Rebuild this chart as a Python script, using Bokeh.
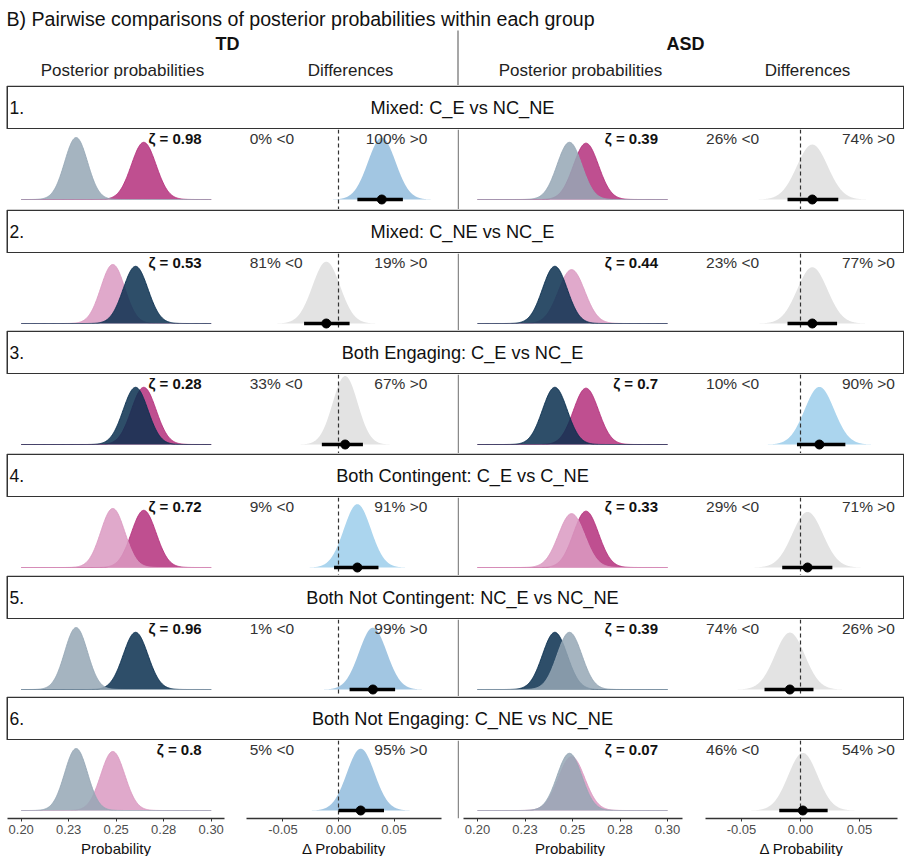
import numpy as np
from bokeh.plotting import figure
from bokeh.layouts import column, row
from bokeh.models import Range1d, Span, FixedTicker
from bokeh.core.properties import value
from bokeh.embed import file_html
from bokeh.resources import INLINE

FONT = "Liberation Sans"

# ---------------- data ----------------
conditions = ["C_E", "C_NE", "NC_E", "NC_NE"]
td_mean = [0.2645, 0.2482, 0.2602, 0.2289]
td_sd = [0.0065, 0.0063, 0.0065, 0.0060]
asd_mean = [0.2571, 0.2495, 0.2407, 0.2484]
asd_sd = [0.0066, 0.0069, 0.0065, 0.0065]

row_numbers = ["1.", "2.", "3.", "4.", "5.", "6."]
row_titles = ["Mixed: C_E vs NC_NE", "Mixed: C_NE vs NC_E",
              "Both Engaging: C_E vs NC_E", "Both Contingent: C_E vs C_NE",
              "Both Not Contingent: NC_E vs NC_NE", "Both Not Engaging: C_NE vs NC_NE"]
pair_a = ["C_E", "C_NE", "C_E", "C_E", "NC_E", "C_NE"]
pair_b = ["NC_NE", "NC_E", "NC_E", "C_NE", "NC_NE", "NC_NE"]

td_zeta = ["0.98", "0.53", "0.28", "0.72", "0.96", "0.8"]
asd_zeta = ["0.39", "0.44", "0.7", "0.33", "0.39", "0.07"]
td_pct_neg = [0, 81, 33, 9, 1, 5]
td_pct_pos = [100, 19, 67, 91, 99, 95]
asd_pct_neg = [26, 23, 10, 29, 74, 46]
asd_pct_pos = [74, 77, 90, 71, 26, 54]

td_diff_median = [0.039, -0.011, 0.006, 0.017, 0.031, 0.020]
td_diff_lo = [0.017, -0.031, -0.015, -0.004, 0.010, 0.000]
td_diff_hi = [0.058, 0.010, 0.022, 0.036, 0.051, 0.041]
asd_diff_median = [0.010, 0.010, 0.016, 0.006, -0.009, 0.002]
asd_diff_lo = [-0.011, -0.011, -0.003, -0.0155, -0.0305, -0.018]
asd_diff_hi = [0.032, 0.031, 0.038, 0.027, 0.011, 0.023]

post_ticks = [0.2, 0.225, 0.25, 0.275, 0.3]
post_tick_labels = ["0.20", "0.23", "0.25", "0.28", "0.30"]
diff_ticks = [-0.05, 0.0, 0.05]
diff_tick_labels = ["-0.05", "0.00", "0.05"]

# ---------------- styles ----------------
cond_colors = {"C_E": "#b4307c", "C_NE": "#db9ac2", "NC_E": "#092f4f", "NC_NE": "#95a7b5"}
BLUE_STRONG = "#a2c6e2"
BLUE_LIGHT = "#abd5ee"
GREY_DIFF = "#e3e3e3"

POST_SCALE = 0.932      # px per density unit (posterior panels)
TD_DIFF_SCALE = 1.93
ASD_DIFF_SCALE = 1.80
BASE = 70               # px from panel top to the zero line
PANEL_H = [80, 77, 79, 78, 77, 78]

# column geometry: (x range, frame width, left border, right border)
COL_A = ((0.19279, 0.30700), 217, 7, 11)
COL_B = ((-0.08288, 0.09279), 195, 11, 16)
COL_C = ((0.18947, 0.30789), 225, 0, 12)
COL_D = ((-0.08051, 0.08220), 192, 11, 7)


def dens(x, m, s):
    return np.exp(-0.5 * ((x - m) / s) ** 2) / (s * np.sqrt(2 * np.pi))


def base_fig(col, frame_h, yscale, bottom):
    xr, fw, bl, br = col
    p = figure(frame_width=fw, frame_height=frame_h,
               x_range=Range1d(*xr),
               y_range=Range1d(-(frame_h - BASE) / yscale, BASE / yscale),
               output_backend="svg", toolbar_location=None,
               x_axis_location="below" if bottom else None, y_axis_location=None,
               min_border_left=bl, min_border_right=br, min_border_top=0,
               min_border_bottom=0)
    p.xgrid.visible = False
    p.ygrid.visible = False
    p.outline_line_color = None
    p.background_fill_color = "white"
    p.border_fill_color = "white"
    return p


def style_axis(p, ticks, labels, title, bounds=None):
    ax = p.xaxis[0]
    ax.ticker = FixedTicker(ticks=ticks)
    ax.major_label_overrides = {t: l for t, l in zip(ticks, labels)}
    ax.axis_label = title
    ax.axis_label_text_font = FONT
    ax.axis_label_text_font_size = "15px"
    ax.axis_label_text_font_style = "normal"
    ax.axis_label_text_color = "#111111"
    ax.axis_label_standoff = 3
    ax.major_label_text_font = FONT
    ax.major_label_text_font_size = "13px"
    ax.major_label_text_color = "#4d4d4d"
    ax.major_label_standoff = 3
    ax.axis_line_color = "#333333"
    ax.axis_line_width = 1.4
    ax.major_tick_line_color = "#333333"
    ax.major_tick_out = 3
    ax.major_tick_in = 0
    ax.minor_tick_line_color = None
    if bounds is not None:
        ax.bounds = bounds


def post_panel(col, k, means, sds, zeta, frame_h, bottom, divider=False):
    p = base_fig(col, frame_h, POST_SCALE, bottom)
    xg = np.linspace(0.2, 0.3, 401)
    for cond in (pair_a[k], pair_b[k]):
        i = conditions.index(cond)
        y = dens(xg, means[i], sds[i])
        c = cond_colors[cond]
        p.varea(x=xg, y1=0, y2=y, fill_color=c, fill_alpha=0.85)
        p.line(x=xg, y=y, line_color=c, line_width=0.9)
    p.text(x=[0.295], y=[61 / POST_SCALE], text=["ζ = " + zeta],
           text_font=value(FONT), text_font_size="15px", text_font_style="bold",
           text_align="right", text_baseline="middle", text_color="#111111")
    if divider:
        p.add_layout(Span(location=col[0][0] + 0.75 / 1900, dimension="height",
                          line_color="#8a8a8a", line_width=1.5))
    if bottom:
        style_axis(p, post_ticks, post_tick_labels, "Probability",
                   bounds=(0.19263, 0.30789) if divider else None)
    return p


def diff_panel(col, med, lo, hi, neg, pos, yscale, frame_h, bottom):
    p = base_fig(col, frame_h, yscale, bottom)
    sd = (hi - lo) / (2 * 1.645)
    xg = np.linspace(med - 4 * sd, med + 4 * sd, 301)
    if max(neg, pos) >= 95:
        fc = BLUE_STRONG
    elif max(neg, pos) >= 90:
        fc = BLUE_LIGHT
    else:
        fc = GREY_DIFF
    p.varea(x=xg, y1=0, y2=dens(xg, med, sd), fill_color=fc)
    p.add_layout(Span(location=0, dimension="height", line_dash="4 3",
                      line_color="#333333", line_width=1.2))
    r1 = p.segment(x0=[lo], y0=[0], x1=[hi], y1=[0], line_color="black", line_width=3.5)
    r1.level = "overlay"
    r2 = p.scatter(x=[med], y=[0], size=9, fill_color="black", line_color="black")
    r2.level = "overlay"
    ty = 61 / yscale
    p.text(x=[-0.08], y=[ty], text=[f"{neg}% <0"], text_font=value(FONT),
           text_font_size="15.5px", text_align="left", text_baseline="middle",
           text_color="#333333")
    p.text(x=[0.08], y=[ty], text=[f"{pos}% >0"], text_font=value(FONT),
           text_font_size="15.5px", text_align="right", text_baseline="middle",
           text_color="#333333")
    if bottom:
        style_axis(p, diff_ticks, diff_tick_labels, "Δ Probability")
    return p


# ---------------- header ----------------
hdr = figure(width=904, height=85, x_range=Range1d(0, 904), y_range=Range1d(0, 85),
             output_backend="svg", toolbar_location=None,
             x_axis_location=None, y_axis_location=None, min_border=0)
hdr.xgrid.visible = False
hdr.ygrid.visible = False
hdr.outline_line_color = None
hdr.text(x=[6], y=[85 - 18], text=["B) Pairwise comparisons of posterior probabilities within each group"],
         text_font=value(FONT), text_font_size="19.6px", text_align="left",
         text_baseline="middle", text_color="#111111")
hdr.text(x=[227, 685], y=[85 - 43, 85 - 43], text=["TD", "ASD"],
         text_font=value(FONT), text_font_size="18px", text_font_style="bold",
         text_align="center", text_baseline="middle", text_color="#111111")
hdr.text(x=[122, 350, 580, 807], y=[85 - 70] * 4,
         text=["Posterior probabilities", "Differences", "Posterior probabilities", "Differences"],
         text_font=value(FONT), text_font_size="17px", text_align="center",
         text_baseline="middle", text_color="#222222")
hdr.segment(x0=[457.5], y0=[85 - 30], x1=[457.5], y1=[0], line_color="#8a8a8a", line_width=1.5)

children = [hdr]
for k in range(6):
    st = figure(width=904, height=44, x_range=Range1d(0, 904), y_range=Range1d(0, 44),
                output_backend="svg", toolbar_location=None,
                x_axis_location=None, y_axis_location=None, min_border=0)
    st.xgrid.visible = False
    st.ygrid.visible = False
    st.outline_line_color = None
    st.quad(left=6.75, right=903.25, bottom=0.75, top=43.25, fill_color="white",
            line_color="#333333", line_width=1.5)
    st.text(x=[9], y=[22], text=[row_numbers[k]], text_font=value(FONT),
            text_font_size="17.5px", text_align="left", text_baseline="middle",
            text_color="#111111")
    st.text(x=[462], y=[22], text=[row_titles[k]], text_font=value(FONT),
            text_font_size="18.2px", text_align="center", text_baseline="middle",
            text_color="#111111")
    children.append(st)

    bottom = (k == 5)
    h = PANEL_H[k]
    pa = post_panel(COL_A, k, td_mean, td_sd, td_zeta[k], h, bottom)
    pb = diff_panel(COL_B, td_diff_median[k], td_diff_lo[k], td_diff_hi[k],
                    td_pct_neg[k], td_pct_pos[k], TD_DIFF_SCALE, h, bottom)
    pc = post_panel(COL_C, k, asd_mean, asd_sd, asd_zeta[k], h, bottom, divider=True)
    pd_ = diff_panel(COL_D, asd_diff_median[k], asd_diff_lo[k], asd_diff_hi[k],
                     asd_pct_neg[k], asd_pct_pos[k], ASD_DIFF_SCALE, h, bottom)
    children.append(row(pa, pb, pc, pd_, spacing=0))

page = column(*children, spacing=0)

with open("out.html", "w") as f:
    f.write(file_html(page, INLINE, title="Pairwise comparisons"))
